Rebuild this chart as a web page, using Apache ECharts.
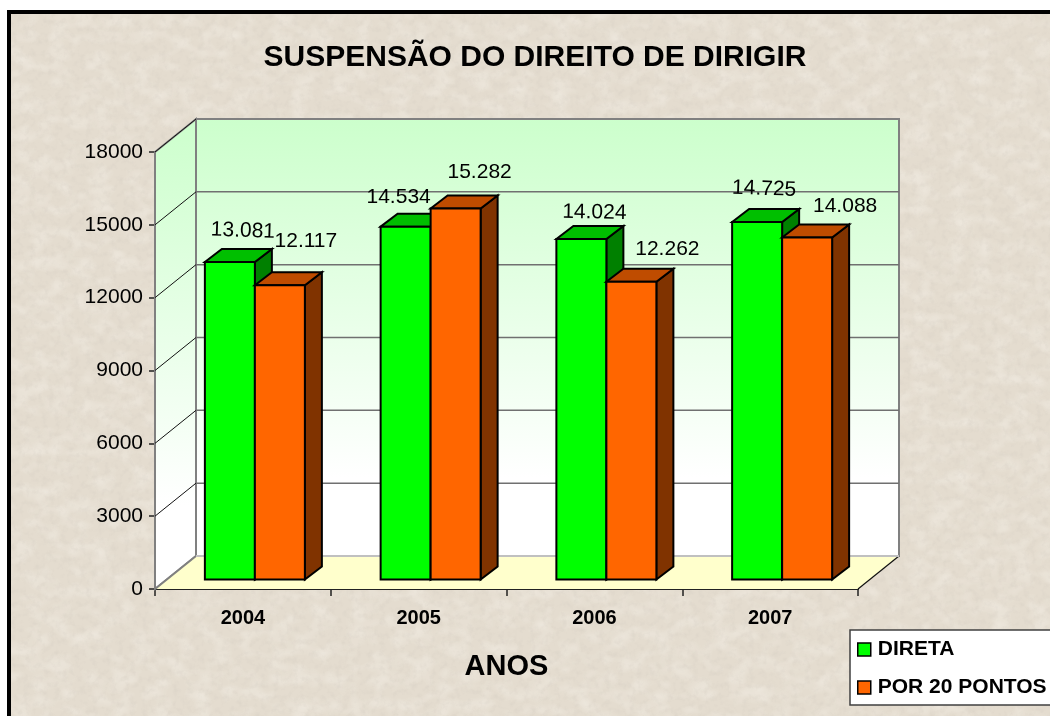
<!DOCTYPE html>
<html>
<head>
<meta charset="utf-8">
<style>
html,body{margin:0;padding:0;background:#fff;width:1050px;height:716px;overflow:hidden}
#frame{position:absolute;left:7px;top:10px;width:1043px;height:706px;box-sizing:border-box;border-left:4px solid #000;border-top:4px solid #000;background:#e4dccf;overflow:hidden}
#frame svg{position:absolute;left:0;top:0}
#chart{position:absolute;left:0;top:0;width:1050px;height:716px}
</style>
<script src="https://cdn.jsdelivr.net/npm/echarts@6/dist/echarts.min.js"></script>
</head>
<body>
<div id="frame">
<svg width="1043" height="706" xmlns="http://www.w3.org/2000/svg">
<filter id="blotch" x="0" y="0" width="100%" height="100%">
<feTurbulence type="fractalNoise" baseFrequency="0.16" numOctaves="3" seed="7"/>
<feColorMatrix type="matrix" values="0 0 0 0 0.66  0 0 0 0 0.61  0 0 0 0 0.54  0 0 0 2.6 -1.2"/>
</filter>
<filter id="light" x="0" y="0" width="100%" height="100%">
<feTurbulence type="fractalNoise" baseFrequency="0.05 0.07" numOctaves="2" seed="21"/>
<feColorMatrix type="matrix" values="0 0 0 0 0.95  0 0 0 0 0.92  0 0 0 0 0.87  0 0 0 2.2 -0.9"/>
</filter>
<rect width="1043" height="706" filter="url(#light)" opacity="0.4"/>
<rect width="1043" height="706" filter="url(#blotch)" opacity="0.32"/>
</svg>
</div>
<div id="chart"></div>
<script>
const categories = ['2004', '2005', '2006', '2007'];
const direta = [13081, 14534, 14024, 14725];
const porPontos = [12117, 15282, 12262, 14088];
const valueTicks = [0, 3000, 6000, 9000, 12000, 15000, 18000];
const seriesNames = ['DIRETA', 'POR 20 PONTOS'];

// label placement relative to the front-top centre of each bar
const diretaNudge = [[13, -31, -0.035], [-7, -29, 0], [13, -26.5, -0.02], [7, -33, -0.035]];
const porNudge = [[26, -44, 0], [24, -36, 0], [36, -33, 0], [38, -31, 0]];

const WALL_DX = 41, WALL_DY = -33;
const BAR_DX = 12, BAR_DY = -9.5;
const DEPTH_DX = 17, DEPTH_DY = -13;
const BAR_W = 50;
const FONT = '"Liberation Sans", Arial, sans-serif';

function fmt(v) {
  return String(v).replace(/\B(?=(\d{3})+$)/g, '.');
}

function renderWalls(params, api) {
  const v = api.value(0);
  const [x0, y0] = api.coord([0, 0]);
  const band = api.coord([1, 0])[0] - x0;
  const width = band * categories.length;
  const L = x0 - band / 2;
  const y = api.coord([0, v])[1];
  const kids = [];
  const lineGrey = '#808080';
  if (params.dataIndex === 0) {
    const yTop = api.coord([0, valueTicks[valueTicks.length - 1]])[1];
    const grad = () => new echarts.graphic.LinearGradient(0, 0, 0, 1, [
      { offset: 0, color: '#ccffcc' }, { offset: 0.82, color: '#ffffff' }, { offset: 1, color: '#ffffff' }
    ]);
    kids.push({ type: 'polygon', shape: { points: [[L, y0], [L, yTop], [L + WALL_DX, yTop + WALL_DY], [L + WALL_DX, y0 + WALL_DY]] }, style: { fill: grad(), stroke: lineGrey, lineWidth: 2 } });
    kids.push({ type: 'polygon', shape: { points: [[L + WALL_DX, y0 + WALL_DY], [L + WALL_DX, yTop + WALL_DY], [L + width + WALL_DX, yTop + WALL_DY], [L + width + WALL_DX, y0 + WALL_DY]] }, style: { fill: grad(), stroke: lineGrey, lineWidth: 2 } });
    kids.push({ type: 'polygon', shape: { points: [[L, y0], [L + width, y0], [L + width + WALL_DX, y0 + WALL_DY], [L + WALL_DX, y0 + WALL_DY]] }, style: { fill: '#ffffcc', stroke: null } });
    kids.push({ type: 'line', shape: { x1: L, y1: y0, x2: L + WALL_DX, y2: y0 + WALL_DY }, style: { stroke: lineGrey, lineWidth: 2 } });
    kids.push({ type: 'line', shape: { x1: L + width, y1: y0, x2: L + width + WALL_DX, y2: y0 + WALL_DY }, style: { stroke: '#111', lineWidth: 1.2 } });
    kids.push({ type: 'line', shape: { x1: L + WALL_DX, y1: y0 + WALL_DY, x2: L + width + WALL_DX, y2: y0 + WALL_DY }, style: { stroke: '#c0c0c0', lineWidth: 2 } });
  } else {
    kids.push({ type: 'line', shape: { x1: L, y1: y, x2: L + WALL_DX, y2: y + WALL_DY }, style: { stroke: '#111', lineWidth: 1 } });
    kids.push({ type: 'line', shape: { x1: L + WALL_DX, y1: y + WALL_DY, x2: L + width + WALL_DX, y2: y + WALL_DY }, style: { stroke: v === 18000 ? lineGrey : '#707070', lineWidth: v === 18000 ? 2 : 1.5 } });
  }
  return { type: 'group', children: kids };
}

function barRenderer(side, front, topFace, sideFace, nudge) {
  return function (params, api) {
    const i = api.value(0), v = api.value(1);
    const base = api.coord([i, 0]), top = api.coord([i, v]);
    const cx = base[0] + BAR_DX;
    const xl = side < 0 ? cx - BAR_W : cx;
    const xr = xl + BAR_W;
    const yb = base[1] + BAR_DY;
    const yt = top[1] + BAR_DY;
    const edge = { stroke: '#000', lineWidth: 2, lineJoin: 'miter' };
    const n = nudge[i];
    return {
      type: 'group',
      children: [
        { type: 'polygon', shape: { points: [[xr, yt], [xr + DEPTH_DX, yt + DEPTH_DY], [xr + DEPTH_DX, yb + DEPTH_DY], [xr, yb]] }, style: Object.assign({ fill: sideFace }, edge) },
        { type: 'polygon', shape: { points: [[xl, yt], [xl + DEPTH_DX, yt + DEPTH_DY], [xr + DEPTH_DX, yt + DEPTH_DY], [xr, yt]] }, style: Object.assign({ fill: topFace }, edge) },
        { type: 'polygon', shape: { points: [[xl, yt], [xr, yt], [xr, yb], [xl, yb]] }, style: Object.assign({ fill: front }, edge) },
        { type: 'text', x: (xl + xr) / 2 + n[0], y: yt + n[1], rotation: n[2], style: { text: fmt(v), x: 0, y: 0, align: 'center', verticalAlign: 'middle', font: '21px ' + FONT, fill: '#000' } }
      ]
    };
  };
}

const chart = echarts.init(document.getElementById('chart'), null, { renderer: 'canvas' });
chart.setOption({
  backgroundColor: 'transparent',
  animation: false,
  title: {
    text: 'SUSPENSÃO DO DIREITO DE DIRIGIR',
    left: 530, top: 38, textAlign: 'center',
    textStyle: { fontFamily: FONT, fontWeight: 'bold', fontSize: 30, color: '#000' }
  },
  legend: {
    left: 850, top: 630, orient: 'vertical',
    backgroundColor: '#fff', borderColor: '#404040', borderWidth: 1.5, borderRadius: 0,
    padding: [9, 16, 7, 7], itemWidth: 13, itemHeight: 13, itemGap: 17,
    icon: 'rect',
    data: seriesNames,
    itemStyle: { borderColor: '#000', borderWidth: 1.5 },
    textStyle: { fontFamily: FONT, fontWeight: 'bold', fontSize: 21, color: '#000', padding: [0, 0, 0, 2] }
  },
  grid: { left: 155, top: 152, width: 703, height: 437, containLabel: false },
  xAxis: {
    type: 'category', data: categories, boundaryGap: true,
    name: 'ANOS', nameLocation: 'middle', nameGap: 63,
    nameTextStyle: { fontFamily: FONT, fontWeight: 'bold', fontSize: 29, color: '#000' },
    axisLine: { show: true, lineStyle: { color: '#222', width: 2 } },
    axisTick: { show: true, length: 7, alignWithLabel: false, lineStyle: { color: '#222', width: 1.5 } },
    axisLabel: { margin: 19, fontFamily: FONT, fontWeight: 'bold', fontSize: 20, color: '#000' },
    splitLine: { show: false }
  },
  yAxis: {
    type: 'value', min: 0, max: 18000, interval: 3000,
    axisLine: { show: true, lineStyle: { color: '#222', width: 2 } },
    axisTick: { show: true, length: 6, lineStyle: { color: '#222', width: 1.5 } },
    axisLabel: { margin: 12, fontFamily: FONT, fontSize: 21, color: '#000', formatter: v => String(v) },
    splitLine: { show: false }
  },
  tooltip: { show: false },
  series: [
    {
      type: 'custom', name: 'walls', silent: true, clip: false, z: 1,
      coordinateSystem: 'cartesian2d',
      data: valueTicks.map(v => [v]),
      encode: { y: 0 },
      renderItem: renderWalls
    },
    {
      type: 'custom', name: seriesNames[0], clip: false, z: 3,
      coordinateSystem: 'cartesian2d',
      itemStyle: { color: '#00ff00' },
      data: direta.map((v, i) => [i, v]),
      encode: { x: 0, y: 1 },
      renderItem: barRenderer(-1, '#00ff00', '#00bf00', '#008000', diretaNudge)
    },
    {
      type: 'custom', name: seriesNames[1], clip: false, z: 4,
      coordinateSystem: 'cartesian2d',
      itemStyle: { color: '#ff6600' },
      data: porPontos.map((v, i) => [i, v]),
      encode: { x: 0, y: 1 },
      renderItem: barRenderer(1, '#ff6600', '#bf4c00', '#803300', porNudge)
    }
  ]
});
</script>
</body>
</html>
